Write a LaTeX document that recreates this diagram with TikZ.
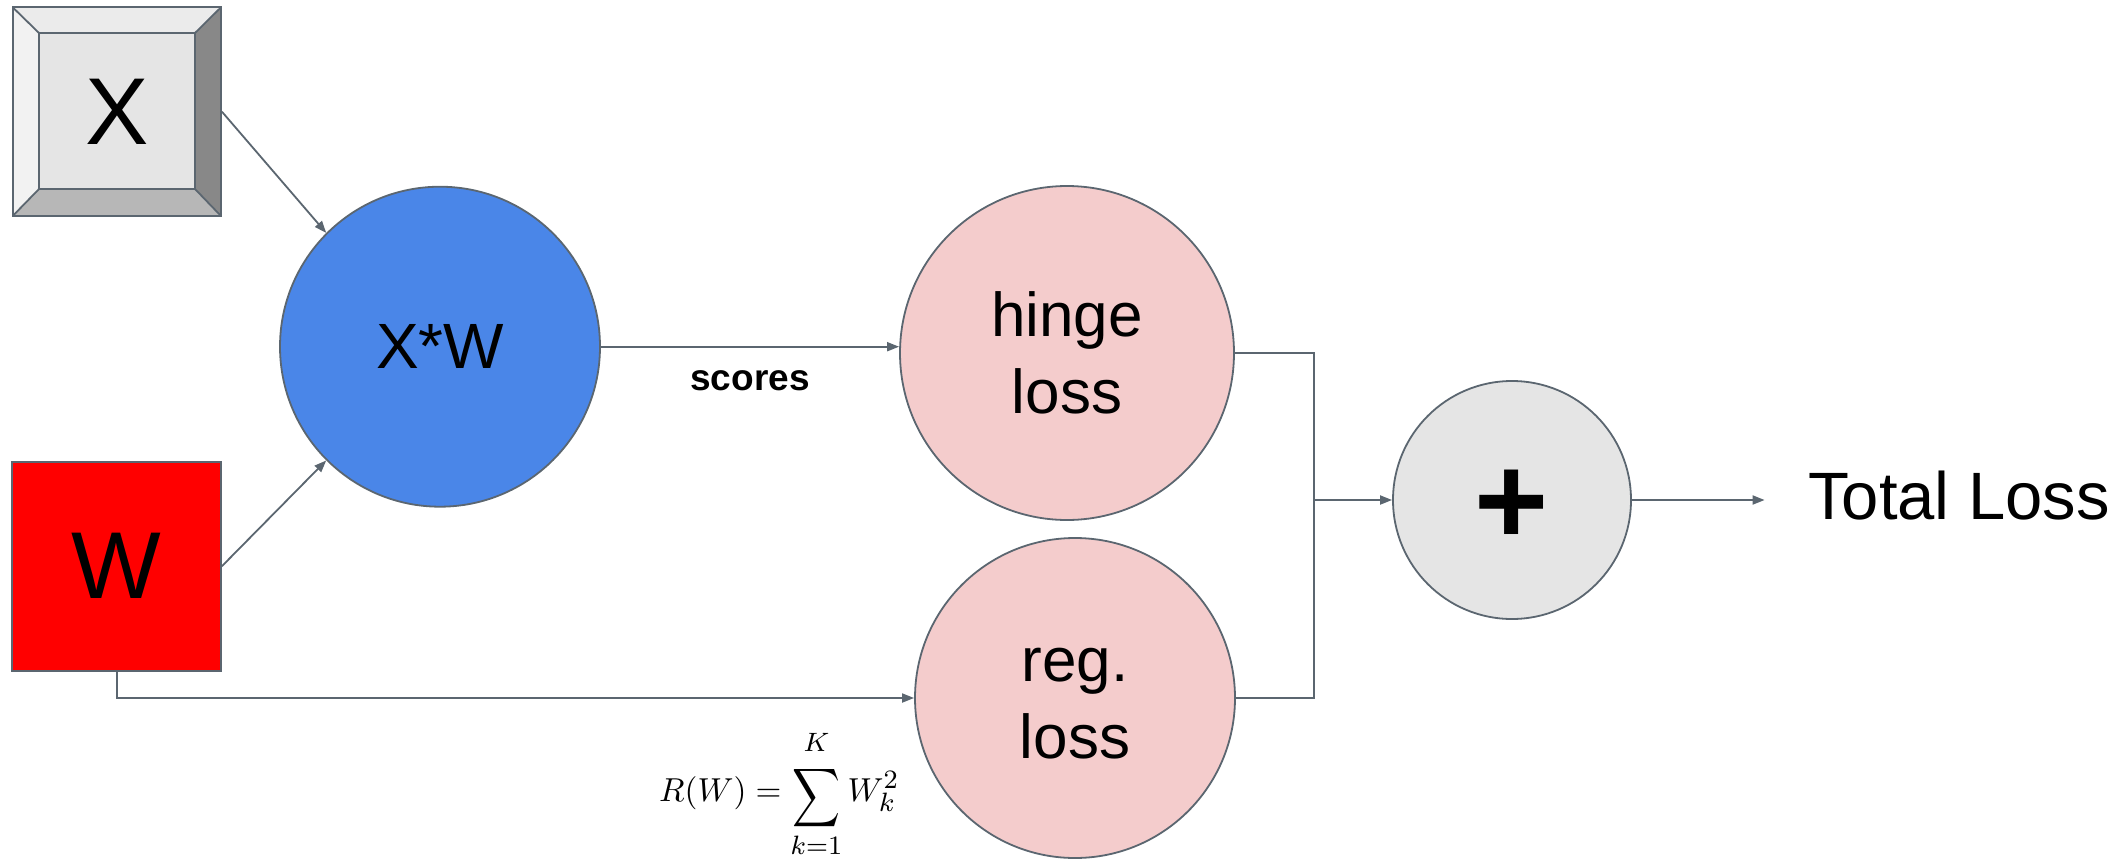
\documentclass[tikz,border=0pt]{standalone}
\usepackage{graphicx}
\usepackage{fontspec}
\setmainfont{Liberation Sans}
\usetikzlibrary{arrows.meta,calc,shapes.geometric}
% larger scripts for the regulariser formula
\DeclareMathSizes{10}{10}{8}{6}

\definecolor{edgegray}{HTML}{5B6670}
\definecolor{xwblue}{HTML}{4A86E8}
\definecolor{losspink}{HTML}{F4CCCC}
\definecolor{sumgray}{HTML}{E5E5E5}
\definecolor{keyface}{HTML}{E5E5E5}
\definecolor{keytop}{HTML}{EBEBEB}
\definecolor{keyleft}{HTML}{F2F2F2}
\definecolor{keyright}{HTML}{888888}
\definecolor{keybottom}{HTML}{B7B7B7}

\tikzset{
  outline/.style={draw=edgegray, line width=1.8pt},
  opnode/.style={circle, outline, inner sep=0pt, align=center},
  wire/.style={draw=edgegray, line width=1.8pt},
  conn/.style={wire, -{Triangle[length=12pt,width=9pt]}},
  bignum/.style={font=\fontsize{95}{95}\selectfont},
  losstext/.style={font=\fontsize{62}{77}\selectfont},
}

\begin{document}
\begin{tikzpicture}[x=1pt,y=-1pt]
\useasboundingbox (0,0) rectangle (2121,862);

% bevelled key for the input X
\fill[keyleft]   (12.7,7.3) -- (39,33) -- (39,189) -- (12.7,216) -- cycle;
\fill[keytop]    (12.7,7.3) -- (221,7.3) -- (195,33) -- (39,33) -- cycle;
\fill[keyright]  (221,7.3) -- (221,216) -- (195,189) -- (195,33) -- cycle;
\fill[keybottom] (12.7,216) -- (221,216) -- (195,189) -- (39,189) -- cycle;
\fill[keyface]   (39,33) rectangle (195,189);
\draw[outline]   (39,33) rectangle (195,189);
\draw[outline]   (12.7,7.3) -- (39,33) (221,7.3) -- (195,33)
                 (221,216) -- (195,189) (12.7,216) -- (39,189);
\node[outline, inner sep=0pt, minimum width=208.3pt, minimum height=208.7pt, bignum]
  (X) at (116.85,111.65) {X};

% weights
\node[outline, fill=red, inner sep=0pt, minimum width=208.7pt, minimum height=209pt, bignum]
  (W) at (116.65,566.2) {W};

% operations
\node[opnode, fill=xwblue, minimum size=320pt, font=\fontsize{64}{64}\selectfont]
  (XW) at (440,346.7) {X*W};
\node[opnode, fill=losspink, minimum size=334pt, losstext]
  (hinge) at (1067,353) {hinge\\loss};
\node[opnode, fill=losspink, minimum size=320pt, losstext]
  (reg) at (1075,698) {\vphantom{l}reg.\\loss};
\node[opnode, fill=sumgray, minimum size=238pt,
      font=\fontsize{127}{127}\selectfont\bfseries]
  (plus) at (1512,500) {\raisebox{-44pt}[0pt][0pt]{+}};

% output
\node[anchor=base west, inner sep=0pt, font=\fontsize{67}{67}\selectfont]
  (total) at (1808,519) {Total Loss};

% regularisation formula
\node[anchor=base west, inner sep=0pt] (formula) at (659,801.7)
  {\scalebox{3.32}{$\displaystyle R(W)=
    \mathop{\raisebox{-0.2em}{\scalebox{1}[1.23]{$\displaystyle\sum$}}}\limits
      _{\raisebox{-0.12em}{$\scriptstyle k=1$}}
      ^{\raisebox{0.22em}{$\scriptstyle K$}}
    W_k^2$}};

% connectors
\coordinate (join) at (1313.6,500);
\coordinate (out) at (1764.6,500);
\draw[conn] (X.east) -- (XW.135);
\draw[conn] (W.east) -- (XW.225);
\draw[conn] (XW.east) -- node[anchor=base, yshift=-43.7pt, inner sep=0pt,
  font=\fontsize{37}{37}\selectfont\bfseries] (scores) {scores} (XW.east -| hinge.west);
\draw[conn] (W.south) |- (reg.west);
\draw[wire] (hinge.east) -| (join);
\draw[wire] (reg.east) -| (join);
\draw[conn] (join) -- (plus.west);
\draw[conn] (plus.east) -- (out);
\end{tikzpicture}
\end{document}
